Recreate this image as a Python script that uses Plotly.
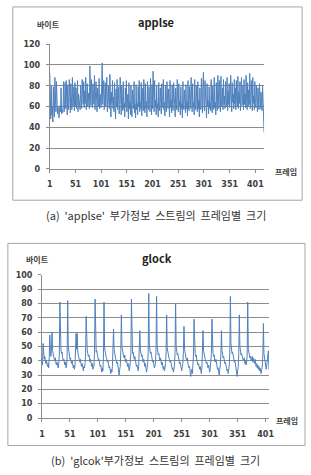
import plotly.graph_objects as go

W, H = 311, 475

# ---------------- data ----------------
applse_sizes = [
    92, 55, 48, 80, 52, 60, 45, 79, 58, 50, 88, 62, 55, 84, 57, 53, 60, 58, 49, 56,
    61, 55, 78, 53, 57, 54, 60, 84, 55, 62, 83, 58, 85, 60, 52, 81, 57, 63, 86, 59,
    54, 82, 62, 57, 88, 60, 65, 79, 56, 83, 61, 78, 58, 64, 85, 55, 72, 66, 62, 57,
    80, 65, 58, 86, 70, 62, 84, 59, 75, 63, 88, 57, 66, 82, 60, 73, 64, 58, 99, 68,
    61, 86, 74, 59, 82, 65, 62, 90, 57, 70, 84, 63, 55, 78, 66, 60, 87, 58, 72, 64,
    59, 81, 102, 62, 70, 85, 57, 66, 83, 60, 75, 88, 55, 64, 80, 62, 58, 91, 66, 50,
    74, 63, 85, 58, 69, 55, 83, 62, 48, 77, 60, 86, 57, 66, 79, 53, 62, 88, 59, 52,
    80, 61, 56, 84, 58, 63, 50, 78, 60, 85, 55, 62, 72, 48, 83, 58, 64, 52, 80, 57,
    50, 76, 60, 58, 84, 54, 62, 49, 81, 57, 63, 52, 79, 60, 85, 55, 64, 58, 83, 51,
    60, 78, 56, 86, 62, 54, 82, 58, 65, 50, 84, 61, 57, 79, 63, 55, 87, 60, 52, 81,
    58, 94, 62, 55, 85, 60, 66, 52, 80, 58, 63, 50, 83, 61, 56, 78, 64, 53, 82, 59,
    62, 86, 57, 64, 51, 80, 60, 55, 84, 62, 58, 77, 63, 50, 85, 59, 66, 54, 81, 60,
    56, 83, 62, 58, 50, 78, 64, 57, 86, 60, 55, 82, 61, 65, 52, 79, 58, 63, 49, 84,
    60, 57, 76, 62, 54, 81, 58, 64, 51, 85, 60, 56, 79, 63, 58, 88, 61, 55, 82, 59,
    64, 52, 86, 60, 57, 80, 62, 55, 84, 58, 66, 50, 78, 61, 57, 87, 63, 54, 81, 93,
    60, 56, 85, 62, 58, 49, 82, 60, 65, 53, 79, 58, 63, 56, 86, 61, 54, 80, 62, 57,
    88, 59, 64, 52, 83, 60, 56, 90, 62, 58, 85, 63, 55, 89, 60, 66, 78, 57, 86, 62,
    70, 58, 84, 64, 60, 88, 56, 75, 62, 82, 59, 67, 90, 61, 55, 83, 64, 72, 58, 86,
    62, 78, 57, 85, 66, 60, 89, 58, 74, 63, 84, 56, 70, 88, 61, 65, 80, 57, 86, 62,
    72, 59, 90, 64, 57, 83, 60, 76, 62, 92, 58, 68, 85, 61, 56, 88, 63, 70, 57, 84,
    62, 59, 80, 65, 55, 78, 60, 57, 82, 63, 58, 74, 60, 56, 80, 52, 62, 35,
]

glock_sizes = [
    40, 37, 52,
    44, 41, 43, 39, 38, 40, 37, 36, 38, 35, 42, 58,
    47, 43, 49, 60,
    47, 44, 45, 41, 40, 42, 38, 37, 39, 36, 35, 38, 44, 81,
    56, 48, 45, 46, 42, 40, 41, 38, 37, 39, 35, 36, 43, 82,
    50, 45, 44, 41, 42, 39, 38, 40, 36, 35, 37, 34, 36, 45, 59, 48, 59,
    46, 43, 44, 40, 39, 41, 37, 36, 38, 34, 33, 36, 35, 38, 44, 71,
    52, 47, 45, 43, 44, 40, 39, 41, 37, 36, 38, 34, 35, 37, 45, 83,
    50, 46, 47, 43, 42, 40, 41, 38, 36, 37, 34, 32, 35, 33, 44, 81,
    49, 45, 46, 42, 41, 39, 40, 37, 35, 36, 33, 31, 34, 32, 36, 46, 62,
    48, 44, 45, 41, 40, 38, 39, 36, 35, 30, 34, 36, 47, 72,
    50, 46, 47, 43, 42, 44, 40, 39, 41, 37, 36, 38, 34, 33, 35, 38, 45, 83,
    49, 45, 46, 42, 41, 43, 39, 38, 36, 37, 34, 33, 36, 44, 61,
    48, 45, 43, 44, 40, 39, 41, 37, 36, 38, 34, 32, 35, 38, 46, 87,
    51, 47, 45, 46, 42, 41, 39, 40, 37, 35, 36, 39, 47, 85,
    50, 46, 44, 45, 41, 40, 42, 38, 37, 39, 35, 34, 36, 33, 35, 38, 46, 72,
    49, 45, 46, 42, 41, 39, 40, 37, 36, 34, 35, 32, 34, 37, 45, 80,
    50, 46, 44, 45, 41, 40, 38, 39, 36, 35, 33, 36, 38, 47, 64,
    48, 44, 45, 41, 40, 42, 38, 37, 35, 36, 33, 29, 32, 34, 31, 36, 44, 69,
    49, 45, 43, 44, 40, 39, 37, 38, 35, 34, 36, 32, 31, 35, 44, 61,
    47, 44, 45, 41, 40, 38, 39, 36, 35, 37, 33, 32, 35, 38, 45, 69,
    48, 45, 43, 44, 40, 39, 41, 37, 36, 34, 35, 32, 30, 34, 37, 45, 61,
    47, 44, 42, 43, 40, 38, 39, 36, 35, 33, 34, 31, 34, 37, 46, 85,
    52, 47, 45, 46, 42, 41, 39, 40, 37, 36, 34, 29, 33, 36, 45, 72,
    50, 46, 44, 45, 42, 43, 40, 41, 42, 38, 40, 37, 39, 44, 81,
    48, 45, 44, 42, 43, 40, 41, 43, 39, 42, 40, 38, 41, 39, 36, 38, 35, 37, 34, 36,
    33, 35, 32, 31, 34, 36, 44, 66,
    45, 42, 38, 36, 34, 37, 40, 43, 47, 34,
]

x_tick_labels = [1, 51, 101, 151, 201, 251, 301, 351, 401]
top_y_ticks = [0, 20, 40, 60, 80, 100, 120]
bottom_y_ticks = [0, 10, 20, 30, 40, 50, 60, 70, 80, 90, 100]

# ---------------- styling ----------------
KFONT = "Noto Sans CJK KR"
LINE_COLOR = "#4f81bd"
GRID = "#8c8c8c"


def px_x(p):
    return p / W


def px_y(p):
    return 1 - p / H


fig = go.Figure()

fig.add_trace(go.Scatter(
    x=list(range(1, len(applse_sizes) + 1)), y=applse_sizes,
    mode="lines", line=dict(color=LINE_COLOR, width=1),
    xaxis="x", yaxis="y", showlegend=False, hoverinfo="skip",
))
fig.add_trace(go.Scatter(
    x=list(range(1, len(glock_sizes) + 1)), y=glock_sizes,
    mode="lines", line=dict(color=LINE_COLOR, width=1),
    xaxis="x2", yaxis="y2", showlegend=False, hoverinfo="skip",
))

tickfont = dict(family="DejaVu Sans", size=8, color="#404040", weight="bold")

common_x = dict(
    tickmode="array", tickvals=x_tick_labels, ticktext=[str(v) for v in x_tick_labels],
    showgrid=False, zeroline=False, showline=True, linecolor=GRID, linewidth=1,
    ticks="outside", ticklen=3, tickcolor=GRID, tickfont=tickfont,
    ticklabelstandoff=5,
)
common_y = dict(
    tickmode="array", showgrid=True, gridcolor=GRID, gridwidth=1, zeroline=False,
    showline=True, linecolor=GRID, linewidth=1, ticks="outside", ticklen=3,
    tickcolor=GRID, tickfont=tickfont, ticklabelstandoff=4,
)

fig.update_layout(
    width=W, height=H,
    margin=dict(l=0, r=0, t=0, b=0),
    paper_bgcolor="white", plot_bgcolor="white",
    xaxis=dict(domain=[px_x(48), px_x(268)], range=[1, len(applse_sizes)],
               anchor="y", **common_x),
    yaxis=dict(domain=[px_y(168), px_y(41)], range=[0, 120], tickvals=top_y_ticks,
               anchor="x", **common_y),
    xaxis2=dict(domain=[px_x(40), px_x(273)], range=[1, len(glock_sizes)],
                anchor="y2", **common_x),
    yaxis2=dict(domain=[px_y(422), px_y(276)], range=[0, 100], tickvals=bottom_y_ticks,
                anchor="x2", **common_y),
)

# chart borders
for (x0, y0, x1, y1) in [(10, 3, 307, 200), (5, 244, 310, 450)]:
    fig.add_shape(type="rect", xref="paper", yref="paper",
                  x0=px_x(x0), x1=px_x(x1), y0=px_y(y1), y1=px_y(y0),
                  line=dict(color="#a6a6a6", width=1), fillcolor="rgba(0,0,0,0)",
                  layer="below")


def note(text, cx, cy, size, bold=False, color="#333333"):
    fig.add_annotation(
        text=f"<b>{text}</b>" if bold else text,
        xref="paper", yref="paper", x=px_x(cx), y=px_y(cy),
        xanchor="center", yanchor="middle", showarrow=False,
        font=dict(family=KFONT, size=size, color=color),
    )


note("applse", 157, 18, 11, bold=True, color="#222222")
note("바이트", 47, 21, 8, bold=True, color="#404040")
note("프레임", 290, 171, 8, bold=True, color="#404040")
note("(a)  'applse'  부가정보  스트림의  프레임별  크기", 157, 215, 11, color="#333333")

note("glock", 158, 259, 11, bold=True, color="#222222")
note("바이트", 35, 260, 8, bold=True, color="#404040")
note("프레임", 292, 425, 8, bold=True, color="#404040")
note("(b)  'glcok'부가정보  스트림의  프레임별  크기", 157, 465, 11, color="#333333")

fig.write_html("out.html")
